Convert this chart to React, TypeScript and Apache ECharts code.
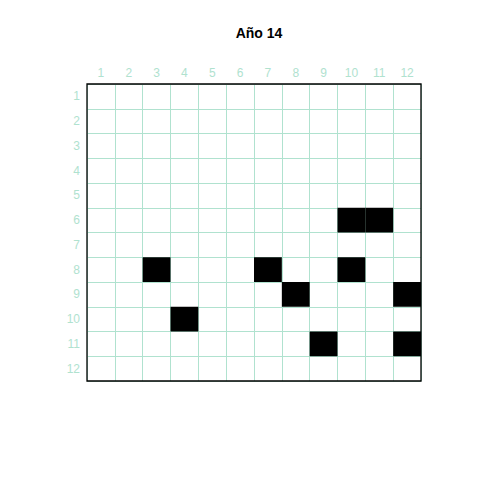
import React, { useEffect, useRef } from "react";
import * as echarts from "echarts";

const titleText = "Año 14";
const columns = ["1", "2", "3", "4", "5", "6", "7", "8", "9", "10", "11", "12"];
const rows = ["1", "2", "3", "4", "5", "6", "7", "8", "9", "10", "11", "12"];
// [column, row] of filled cells
const filledCells: [string, string][] = [
  ["10", "6"], ["11", "6"],
  ["3", "8"], ["7", "8"], ["10", "8"],
  ["8", "9"], ["12", "9"],
  ["4", "10"],
  ["9", "11"], ["12", "11"],
];

const GRID = { left: 87, top: 84, width: 334, height: 297 };
const LINE = "#b0e2cf";

export default function App() {
  const ref = useRef<HTMLDivElement>(null);
  useEffect(() => {
    const chart = echarts.init(ref.current!, null, { renderer: "svg" });
    chart.setOption({
      animation: false,
      backgroundColor: "#ffffff",
      title: {
        text: titleText,
        left: GRID.left + GRID.width / 2,
        textAlign: "center",
        top: 21,
        textStyle: { fontFamily: "Liberation Sans, Arial, sans-serif", fontSize: 14, fontWeight: "bold", color: "#000" },
      },
      grid: { ...GRID, show: false },
      xAxis: {
        type: "category",
        data: columns,
        position: "top",
        axisLine: { show: false },
        axisTick: { show: false },
        axisLabel: { color: LINE, fontSize: 12, margin: 5, fontFamily: "Liberation Sans, Arial, sans-serif" },
        splitLine: { show: true, lineStyle: { color: LINE, width: 1 } },
      },
      yAxis: {
        type: "category",
        data: rows,
        inverse: true,
        axisLine: { show: false },
        axisTick: { show: false },
        axisLabel: { color: LINE, fontSize: 12, margin: 7, fontFamily: "Liberation Sans, Arial, sans-serif" },
        splitLine: { show: true, lineStyle: { color: LINE, width: 1 } },
      },
      series: [
        {
          type: "custom",
          data: filledCells,
          encode: { x: 0, y: 1 },
          renderItem: (params: any, api: any) => {
            const c = api.coord([api.value(0), api.value(1)]);
            const s = api.size([1, 1]);
            return {
              type: "rect",
              shape: { x: c[0] - s[0] / 2, y: c[1] - s[1] / 2, width: s[0], height: s[1] },
              style: { fill: "#000000" },
            };
          },
        },
      ],
      graphic: [
        {
          type: "rect",
          z: 100,
          shape: { x: GRID.left, y: GRID.top, width: GRID.width, height: GRID.height },
          style: { fill: "none", stroke: "#000", lineWidth: 1.3 },
        },
      ],
    });
    return () => chart.dispose();
  }, []);
  return <div ref={ref} style={{ width: 480, height: 480, margin: -8 }} />;
}
